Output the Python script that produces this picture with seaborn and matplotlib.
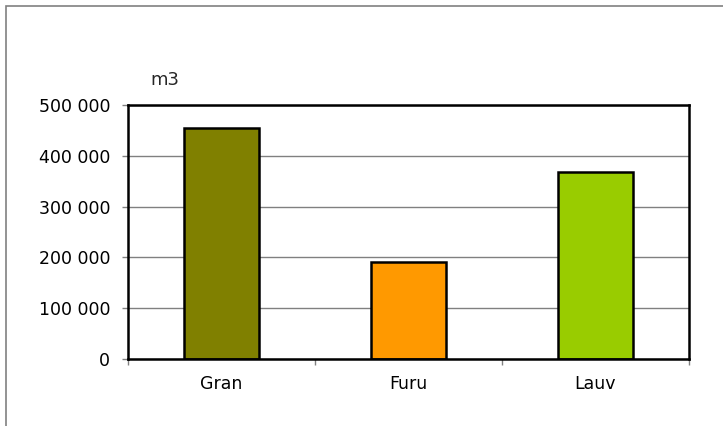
import matplotlib
matplotlib.use("Agg")
import matplotlib.pyplot as plt
from matplotlib.ticker import FuncFormatter, FixedLocator
import seaborn as sns

categories = ["Gran", "Furu", "Lauv"]
volumes = [455000, 191000, 367500]
bar_colors = ["#808000", "#FF9900", "#99CC00"]
y_ticks = [0, 100000, 200000, 300000, 400000, 500000]
unit_label = "m3"

sns.set_style("white")
plt.rcParams["font.family"] = ["DejaVu Sans"]

fig = plt.figure(figsize=(7.23, 4.26), dpi=100)
ax = fig.add_axes([128 / 723, 1 - 359 / 426, 561 / 723, 254 / 426])

sns.barplot(
    x=categories, y=volumes, hue=categories, palette=bar_colors,
    width=0.4, edgecolor="black", linewidth=1.8, legend=False, ax=ax,
    saturation=1,
)

# axis limits and ticks
ax.set_xlim(-0.5, 2.5)
ax.set_ylim(0, 500000)
ax.yaxis.set_major_locator(FixedLocator(y_ticks))
ax.yaxis.set_major_formatter(FuncFormatter(lambda v, _: f"{int(v):,}".replace(",", " ")))
ax.xaxis.set_major_locator(FixedLocator([-0.5, 0.5, 1.5, 2.5]))
ax.xaxis.set_major_formatter(FuncFormatter(lambda v, _: ""))
ax.set_xticks([0, 1, 2], categories, minor=True)
ax.tick_params(axis="x", which="minor", bottom=True, length=0, pad=11.5,
               labelsize=12.5, colors="black")
ax.tick_params(axis="x", which="major", bottom=True, length=4.3, width=1,
               color="#808080", direction="out")
ax.tick_params(axis="y", left=True, length=4.3, width=1, color="#808080",
               direction="out", pad=8.5, labelsize=12.5, labelcolor="black")
ax.set_xlabel("")
ax.set_ylabel("")

ax.yaxis.grid(True, color="#808080", linewidth=1)
ax.set_axisbelow(True)
for side in ["left", "bottom", "top", "right"]:
    ax.spines[side].set_visible(True)
    ax.spines[side].set_color("black")
    ax.spines[side].set_linewidth(1.8)

ax.text(0.066, 1.098, unit_label, transform=ax.transAxes, ha="center", va="center",
        fontsize=13)

# outer chart border (only top/left visible in the reference)
fig.add_artist(plt.Rectangle((6.5 / 723, -0.5), 2, 0.5 + 1 - 5.5 / 426,
                             transform=fig.transFigure, fill=False,
                             edgecolor="#808080", linewidth=1.2))

fig.savefig("out.png", dpi=100)
plt.close(fig)
